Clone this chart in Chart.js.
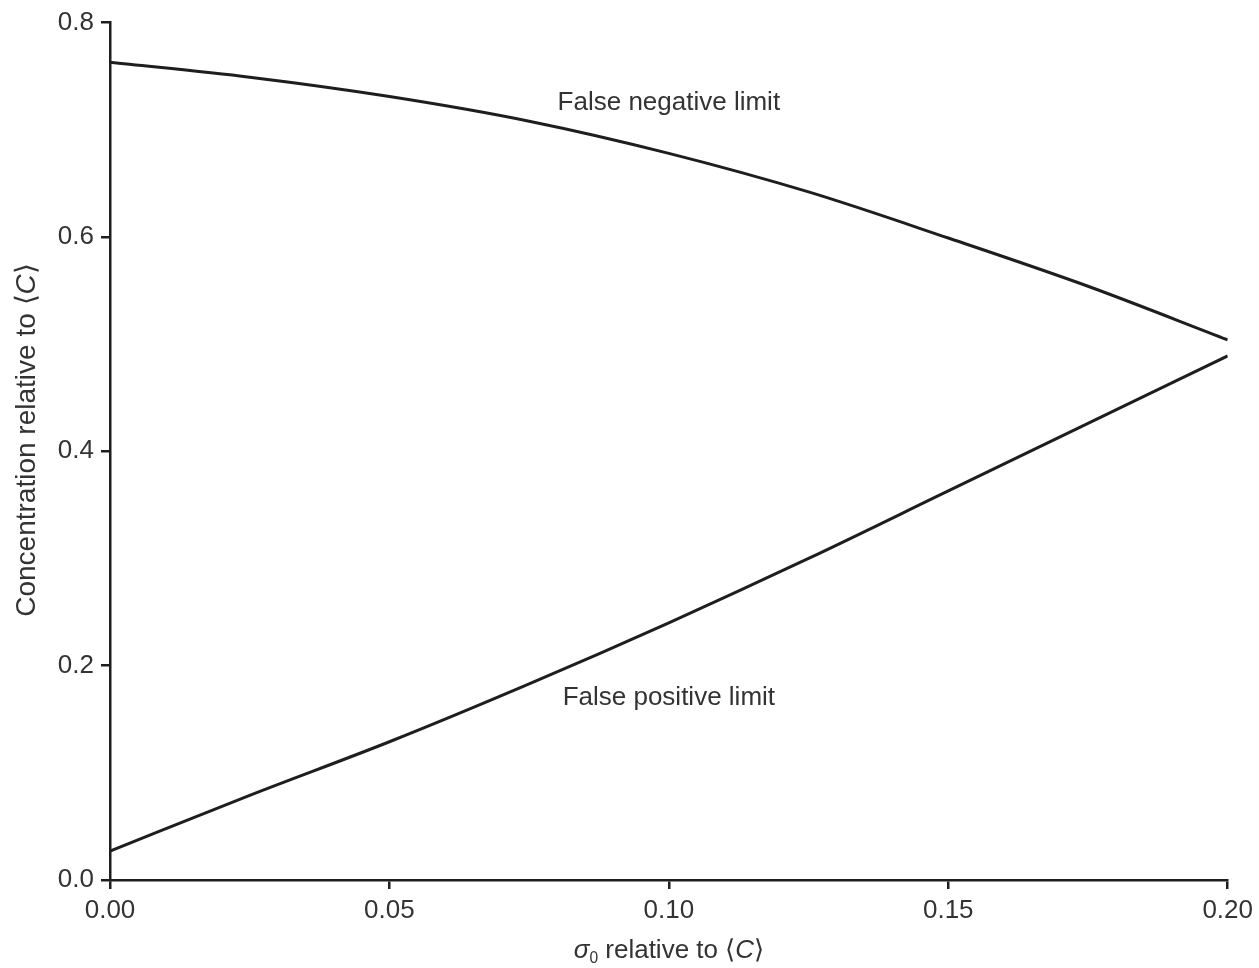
<!DOCTYPE html>
<html>
<head>
<meta charset="utf-8">
<script src="https://cdn.jsdelivr.net/npm/chart.js@4"></script>
<style>
  html, body { margin: 0; padding: 0; background: #fff; }
  #wrap { width: 1259px; height: 968px; }
</style>
</head>
<body>
<div id="wrap"><canvas id="limitsChart"></canvas></div>
<script>
const sigma = [0, 0.025, 0.05, 0.075, 0.10, 0.125, 0.15, 0.175, 0.20];
const falseNegative = [0.763, 0.749, 0.731, 0.708, 0.678, 0.642, 0.599, 0.554, 0.504];
const falsePositive = [0.027, 0.079, 0.129, 0.183, 0.240, 0.300, 0.363, 0.426, 0.489];
const xTicks = [0, 0.05, 0.10, 0.15, 0.20];
const yTicks = [0, 0.2, 0.4, 0.6, 0.8];

const ink = '#1e1e1e';
const textColor = '#333';
const family = '"Liberation Sans", Arial, sans-serif';

// draw a string made of pieces with different styles
function drawRich(ctx, parts, cx, cy, size) {
    let total = 0;
    parts.forEach(p => {
        ctx.font = (p.italic ? 'italic ' : '') + (p.sub ? size * 0.6 : size) + 'px ' + family;
        p.w = ctx.measureText(p.t).width;
        total += p.w;
    });
    let x = cx - total / 2;
    parts.forEach(p => {
        ctx.font = (p.italic ? 'italic ' : '') + (p.sub ? size * 0.6 : size) + 'px ' + family;
        ctx.fillText(p.t, x, cy + (p.sub ? size * 0.3 : 0));
        x += p.w;
    });
}

const labelsPlugin = {
    id: 'labelsPlugin',
    afterDraw(chart) {
        const ctx = chart.ctx;
        const xs = chart.scales.x;
        const ys = chart.scales.y;
        ctx.save();
        ctx.fillStyle = textColor;
        ctx.textBaseline = 'middle';
        ctx.font = '26px ' + family;

        // curve labels
        ctx.textAlign = 'center';
        ctx.fillText('False negative limit', xs.getPixelForValue(0.1), ys.getPixelForValue(0.725));
        ctx.fillText('False positive limit', xs.getPixelForValue(0.1), ys.getPixelForValue(0.170));

        // axis titles
        ctx.textAlign = 'left';
        drawRich(ctx, [
            { t: 'σ', italic: true },
            { t: '0', sub: true },
            { t: ' relative to ⟨' },
            { t: 'C', italic: true },
            { t: '⟩' }
        ], (xs.left + xs.right) / 2, 951, 26);

        ctx.translate(27, 440);
        ctx.rotate(-Math.PI / 2);
        drawRich(ctx, [
            { t: 'Concentration relative to ⟨' },
            { t: 'C', italic: true },
            { t: '⟩' }
        ], 0, 0, 28);
        ctx.restore();
    }
};

const lineStyle = {
    borderColor: ink,
    borderWidth: 3,
    pointRadius: 0,
    fill: false,
    cubicInterpolationMode: 'monotone'
};

new Chart(document.getElementById('limitsChart'), {
    type: 'line',
    data: {
        datasets: [
            Object.assign({ label: 'False negative limit', data: sigma.map((s, i) => ({ x: s, y: falseNegative[i] })) }, lineStyle),
            Object.assign({ label: 'False positive limit', data: sigma.map((s, i) => ({ x: s, y: falsePositive[i] })) }, lineStyle)
        ]
    },
    options: {
        responsive: true,
        maintainAspectRatio: false,
        animation: false,
        layout: { padding: { left: 0, top: 18, right: 31, bottom: 0 } },
        plugins: {
            legend: { display: false },
            tooltip: { enabled: false }
        },
        scales: {
            x: {
                type: 'linear',
                min: 0,
                max: 0.2,
                afterFit(scale) { scale.height = 88; },
                afterBuildTicks(scale) { scale.ticks = xTicks.map(v => ({ value: v })); },
                border: { display: true, color: ink, width: 2.5 },
                grid: { display: true, drawOnChartArea: false, drawTicks: true, tickLength: 9, color: ink, lineWidth: 2.5 },
                ticks: {
                    color: textColor,
                    font: { family: family, size: 26 },
                    padding: 6,
                    maxRotation: 0,
                    callback: v => Number(v).toFixed(2)
                }
            },
            y: {
                type: 'linear',
                min: 0,
                max: 0.8,
                afterFit(scale) { scale.width = 110; },
                afterBuildTicks(scale) { scale.ticks = yTicks.map(v => ({ value: v })); },
                border: { display: true, color: ink, width: 2.5 },
                grid: { display: true, drawOnChartArea: false, drawTicks: true, tickLength: 9, color: ink, lineWidth: 2.5 },
                ticks: {
                    color: textColor,
                    font: { family: family, size: 26 },
                    padding: 7,
                    callback: v => Number(v).toFixed(1)
                }
            }
        }
    },
    plugins: [labelsPlugin]
});
</script>
</body>
</html>
